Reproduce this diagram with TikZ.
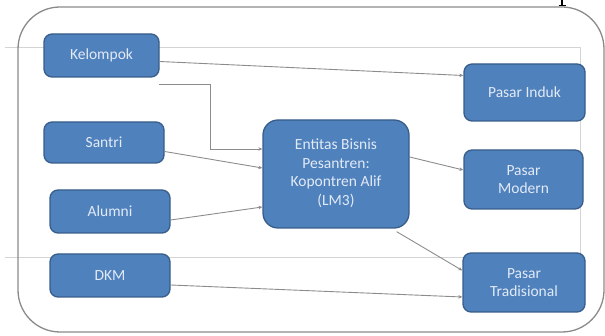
\documentclass[tikz,border=0pt]{standalone}
\usepackage{fontspec}
\setmainfont{Carlito}
\usepackage{tikz}
\usetikzlibrary{arrows.meta,positioning}

\definecolor{boxfill}{HTML}{4F81BD}
\definecolor{boxline}{HTML}{385D8A}
\definecolor{boxtext}{HTML}{E2EAF6}
\definecolor{linkgray}{HTML}{8C8C8C}
\definecolor{framegray}{HTML}{8A8A8A}
\definecolor{guidegray}{HTML}{D4D4D4}

\begin{document}
\begin{tikzpicture}[x=1pt, y=-1pt,
  font=\fontsize{15.5}{18.5}\selectfont,
  unit/.style={draw=boxline, fill=boxfill, line width=1.3pt, rounded corners=8pt,
               text=boxtext, align=center, inner sep=0pt},
  link/.style={draw=linkgray, line width=0.9pt, -{Stealth[length=4pt,width=3.5pt]}}]
  \useasboundingbox (0,0) rectangle (605,336);
  % Guide lines behind everything
  \draw[guidegray, line width=0.8pt] (5,47) -- (580,47) -- (580,253);
  \draw[guidegray, line width=0.8pt] (5,257) -- (463,257);
  % Outer rounded frame
  \draw[framegray, line width=1.3pt, rounded corners=42pt] (18,7) rectangle (604,332);
  % Stroke left over from the page above
  \draw[black, line width=1.6pt] (562,0) -- (562,5.5);
  \draw[black, line width=1pt] (558.5,5.5) -- (566,5.5);
  % Sources on the left
  \node[unit, minimum width=115, minimum height=43] (kel) at (101.5,55.5) {\raisebox{3pt}{Kelompok}};
  \node[unit, minimum width=120, minimum height=41] (san) at (104,142.5) {Santri};
  \node[unit, minimum width=120, minimum height=43] (alu) at (110,211.5) {Alumni};
  \node[unit, minimum width=120, minimum height=43] (dkm) at (110,275.5) {DKM};
  % Business entity in the middle
  \node[unit, rounded corners=15pt, minimum width=146, minimum height=108] (ent) at (336,174)
    {\raisebox{3pt}{\begin{tabular}{@{}c@{}}Entitas Bisnis\\Pesantren:\\Kopontren Alif\\(LM3)\end{tabular}}};
  % Markets on the right
  \node[unit, minimum width=121, minimum height=57] (ind) at (524.5,92.5) {Pasar Induk};
  \node[unit, minimum width=119, minimum height=59] (mod) at (523.5,179.5) {Pasar\\Modern};
  \node[unit, minimum width=122, minimum height=59] (tra) at (524,282.5) {Pasar\\Tradisional};
  % Connectors
  \draw[link] ([yshift=-6pt]kel.east) -- ([yshift=17pt]ind.west);
  \draw[link] ([xshift=-1pt,yshift=-7pt]kel.south east) -- ++(52,0) |- ([yshift=25pt]ent.west);
  \draw[link] ([yshift=-9pt]san.east) -- ([yshift=6pt]ent.west);
  \draw[link] ([yshift=-8.5pt]alu.east) -- ([yshift=-33pt]ent.west);
  \draw[link] ([yshift=17pt]ent.east) -- ([yshift=9.5pt]mod.west);
  \draw[link] ([xshift=-13pt,yshift=-3pt]ent.south east) -- ([yshift=12pt]tra.west);
  \draw[link] ([yshift=-9.5pt]dkm.east) -- ([yshift=-14.5pt]tra.west);
\end{tikzpicture}
\end{document}
